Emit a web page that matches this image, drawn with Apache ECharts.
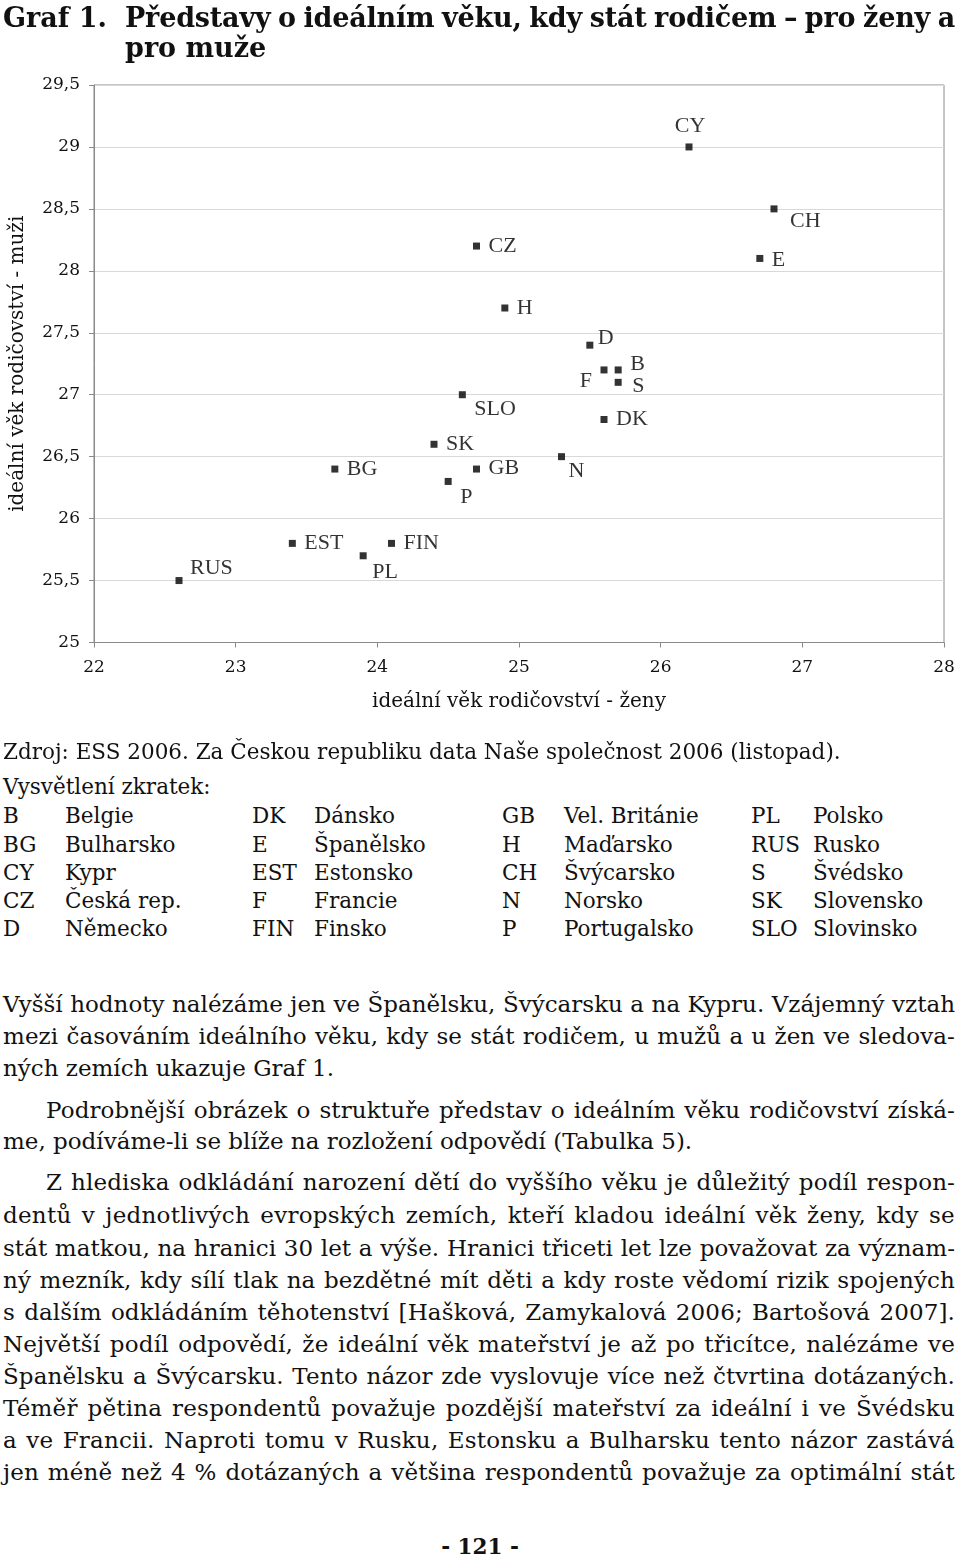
<!DOCTYPE html>
<html>
<head>
<meta charset="utf-8">
<script src="https://cdn.jsdelivr.net/npm/echarts/dist/echarts.min.js"></script>
<style>
  html, body { margin:0; padding:0; background:#fff; }
  body { width:960px; height:1555px; position:relative; overflow:hidden; color:#111; }
  .ln { position:absolute; white-space:nowrap; font-family:"DejaVu Serif", serif; font-size:21.5px; line-height:28px; }
  .bd { font-size:23px; }
  .tt { font-weight:bold; font-size:27px; line-height:32px; }
</style>
</head>
<body>
<div id="chart" style="position:absolute;left:0;top:0;width:960px;height:740px;"></div>
<script>
// ---------- chart data ----------
const countries = ['RUS','EST','PL','FIN','BG','P','SK','GB','SLO','CZ','H','N','D','F','B','S','DK','CY','E','CH'];
const womenAge  = [22.6, 23.4, 23.9, 24.1, 23.7, 24.5, 24.4, 24.7, 24.6, 24.7, 24.9, 25.3, 25.5, 25.6, 25.7, 25.7, 25.6, 26.2, 26.7, 26.8];
const menAge    = [25.5, 25.8, 25.7, 25.8, 26.4, 26.3, 26.6, 26.4, 27.0, 28.2, 27.7, 26.5, 27.4, 27.2, 27.2, 27.1, 26.8, 29.0, 28.1, 28.5];
const xTitle = 'ideální věk rodičovství - ženy';
const yTitle = 'ideální věk rodičovství - muži';

// label placement (style only): [dx, dy, align] relative to marker centre
const labelPlace = {
  RUS:[11,-12], EST:[12,0], PL:[9,16], FIN:[12,0], BG:[12,0], P:[12,16], SK:[12,0], GB:[12,-1],
  SLO:[12,14], CZ:[12,0], H:[12,0], N:[7,15], D:[8,-7], F:[-12,11,'right'], B:[12,-6], S:[14,4],
  DK:[12,0], CY:[1,-21,'center'], E:[12,2], CH:[16,12]
};

const SYM = 7;
const axisGray = '#8a8a8a';
const chart = echarts.init(document.getElementById('chart'), null, {renderer:'canvas'});
chart.setOption({
  animation:false,
  grid:{left:92, top:85, width:852, height:557.5, show:true, borderColor:axisGray, borderWidth:1},
  xAxis:{
    type:'value', min:22, max:28, interval:1,
    name:xTitle, nameLocation:'middle', nameGap:49,
    nameTextStyle:{fontFamily:'DejaVu Serif', fontSize:20, color:'#111'},
    axisLine:{show:true, lineStyle:{color:axisGray, width:1}},
    axisTick:{show:true, length:5, lineStyle:{color:axisGray}},
    axisLabel:{margin:17, fontFamily:'DejaVu Serif', fontSize:17, color:'#111'},
    splitLine:{show:false}
  },
  yAxis:{
    type:'value', min:25, max:29.5, interval:0.5,
    name:yTitle, nameLocation:'middle', nameGap:66, nameRotate:90,
    nameTextStyle:{fontFamily:'DejaVu Serif', fontSize:20, color:'#111'},
    axisLine:{show:true, lineStyle:{color:axisGray, width:1}},
    axisTick:{show:true, length:5, lineStyle:{color:axisGray}},
    axisLabel:{margin:14, fontFamily:'DejaVu Serif', fontSize:17, color:'#111',
      formatter:v => String(v).replace('.', ',')},
    splitLine:{show:true, lineStyle:{color:'#d9d9d9', width:1}}
  },
  series:[{
    type:'scatter', symbol:'rect', symbolSize:SYM,
    itemStyle:{color:'#000'},
    label:{show:true, formatter:'{b}', fontFamily:'Liberation Serif', fontSize:22, color:'#000'},
    data:countries.map((c, i) => {
      const p = labelPlace[c];
      return {
        name:c, value:[womenAge[i], menAge[i]],
        label:{position:[SYM/2 + p[0], SYM/2 + p[1]], align:p[2] || 'left', verticalAlign:'middle'}
      };
    })
  }]
});

// ---------- page text ----------
const titleLines = [
  {t:'Graf 1.', x:3, cy:18},
  {t:'Představy o ideálním věku, kdy stát rodičem – pro ženy a', x:125, cy:18, w:830},
  {t:'pro muže', x:125, cy:48}
];
const sourceLines = [
  {t:'Zdroj: ESS 2006. Za Českou republiku data Naše společnost 2006 (listopad).', x:3, cy:752},
  {t:'Vysvětlení zkratek:', x:3, cy:787}
];
const abbrCodes = [
  ['B','BG','CY','CZ','D'],
  ['DK','E','EST','F','FIN'],
  ['GB','H','CH','N','P'],
  ['PL','RUS','S','SK','SLO']
];
const abbrNames = [
  ['Belgie','Bulharsko','Kypr','Česká rep.','Německo'],
  ['Dánsko','Španělsko','Estonsko','Francie','Finsko'],
  ['Vel. Británie','Maďarsko','Švýcarsko','Norsko','Portugalsko'],
  ['Polsko','Rusko','Švédsko','Slovensko','Slovinsko']
];
const bodyLines = [
  {t:'Vyšší hodnoty nalézáme jen ve Španělsku, Švýcarsku a na Kypru. Vzájemný vztah', x:3, cy:1004, w:952},
  {t:'mezi časováním ideálního věku, kdy se stát rodičem, u mužů a u žen ve sledova-', x:3, cy:1036, w:952},
  {t:'ných zemích ukazuje Graf 1.', x:3, cy:1068},
  {t:'Podrobnější obrázek o struktuře představ o ideálním věku rodičovství získá-', x:46, cy:1110, w:909},
  {t:'me, podíváme-li se blíže na rozložení odpovědí (Tabulka 5).', x:3, cy:1141},
  {t:'Z hlediska odkládání narození dětí do vyššího věku je důležitý podíl respon-', x:46, cy:1182, w:909},
  {t:'dentů v jednotlivých evropských zemích, kteří kladou ideální věk ženy, kdy se', x:3, cy:1215, w:952},
  {t:'stát matkou, na hranici 30 let a výše. Hranici třiceti let lze považovat za význam-', x:3, cy:1248, w:952},
  {t:'ný mezník, kdy sílí tlak na bezdětné mít děti a kdy roste vědomí rizik spojených', x:3, cy:1280, w:952},
  {t:'s dalším odkládáním těhotenství [Hašková, Zamykalová 2006; Bartošová 2007].', x:3, cy:1312, w:952},
  {t:'Největší podíl odpovědí, že ideální věk mateřství je až po třicítce, nalézáme ve', x:3, cy:1344, w:952},
  {t:'Španělsku a Švýcarsku. Tento názor zde vyslovuje více než čtvrtina dotázaných.', x:3, cy:1376, w:952},
  {t:'Téměř pětina respondentů považuje pozdější mateřství za ideální i ve Švédsku', x:3, cy:1408, w:952},
  {t:'a ve Francii. Naproti tomu v Rusku, Estonsku a Bulharsku tento názor zastává', x:3, cy:1440, w:952},
  {t:'jen méně než 4 % dotázaných a většina respondentů považuje za optimální stát', x:3, cy:1472, w:952}
];
const pageNo = '- 121 -';

function place(line, cls, half) {
  const d = document.createElement('div');
  d.className = 'ln' + (cls ? ' ' + cls : '');
  d.textContent = line.t;
  d.style.left = line.x + 'px';
  d.style.top = (line.cy - half) + 'px';
  document.body.appendChild(d);
  if (line.w) {
    const nat = d.getBoundingClientRect().width;
    const diff = line.w - nat;
    const spaces = (line.t.match(/ /g) || []).length;
    if (spaces > 0) {
      d.style.letterSpacing = (diff * 0.4 / line.t.length) + 'px';
      d.style.wordSpacing = (diff * 0.6 / spaces) + 'px';
    } else {
      d.style.letterSpacing = (diff / line.t.length) + 'px';
    }
  }
  return d;
}
titleLines.forEach(l => place(l, 'tt', 16));
sourceLines.forEach(l => place(l, '', 14));
const colX = [[3,65],[252,314],[502,564],[751,813]];
const rowY = [816, 845, 873, 901, 929];
abbrCodes.forEach((col, ci) => {
  col.forEach((code, ri) => {
    place({t:code, x:colX[ci][0], cy:rowY[ri]}, '', 14);
    place({t:abbrNames[ci][ri], x:colX[ci][1], cy:rowY[ri]}, '', 14);
  });
});
bodyLines.forEach(l => place(l, 'bd', 14));
const pn = place({t:pageNo, x:0, cy:1547}, '', 14);
pn.style.fontWeight = 'bold';
pn.style.left = (480 - pn.getBoundingClientRect().width / 2) + 'px';
</script>
</body>
</html>
